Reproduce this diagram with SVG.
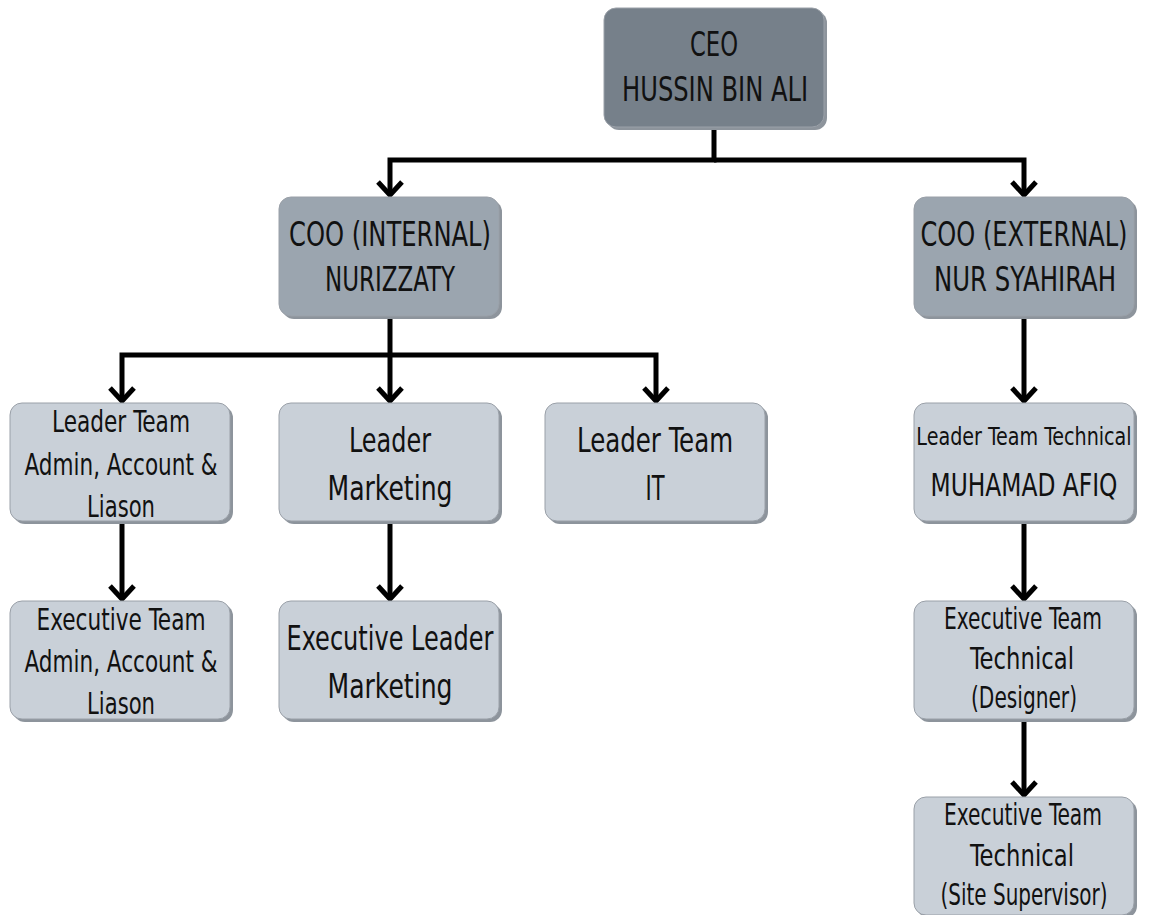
<svg xmlns="http://www.w3.org/2000/svg" width="1149" height="915" viewBox="0 0 1149 915">
<style>
.box{stroke:#9aa0a8;stroke-width:1}
.shadow{fill:#8d949c}
.d{fill:#76808a}
.m{fill:#9ba5af}
.l{fill:#c9d0d8}
text{font-family:"DejaVu Sans Condensed","Liberation Sans",sans-serif;font-stretch:condensed;fill:#111;text-anchor:middle}
.t34{font-size:34px}
.t32{font-size:32px}
.t30{font-size:30px}
.t25{font-size:25px}
.c{fill:none;stroke:#000;stroke-width:5;stroke-linejoin:miter}
</style>
<defs>
<marker id="ah" markerUnits="userSpaceOnUse" markerWidth="24" markerHeight="30" refX="19" refY="15" orient="auto" viewBox="0 0 24 30">
<polyline points="6,3 19,15 6,27" fill="none" stroke="#000" stroke-width="5"/>
</marker>
</defs>
<g id="connectors">
<polyline class="c" points="714,128 714,160 390,160 390,195" marker-end="url(#ah)"/>
<polyline class="c" points="714,160 1024,160 1024,195" marker-end="url(#ah)"/>
<polyline class="c" points="390,317 390,401" marker-end="url(#ah)"/>
<polyline class="c" points="390,355 122,355 122,401" marker-end="url(#ah)"/>
<polyline class="c" points="390,355 656,355 656,401" marker-end="url(#ah)"/>
<polyline class="c" points="1024,317 1024,401" marker-end="url(#ah)"/>
<polyline class="c" points="122,521 122,599" marker-end="url(#ah)"/>
<polyline class="c" points="390,521 390,599" marker-end="url(#ah)"/>
<polyline class="c" points="1024,521 1024,599" marker-end="url(#ah)"/>
<polyline class="c" points="1024,720 1024,795" marker-end="url(#ah)"/>
</g>
<g id="ceo">
<rect class="shadow" x="607" y="11" width="220" height="119" rx="12"/>
<rect class="box d" x="604" y="8" width="220" height="119" rx="12"/>
<text class="t34" transform="translate(714,56) scale(0.72,1)" x="0" y="0" textLength="66.7" lengthAdjust="spacingAndGlyphs">CEO</text>
<text class="t34" transform="translate(715,101) scale(0.72,1)" x="0" y="0" textLength="258.3" lengthAdjust="spacingAndGlyphs">HUSSIN BIN ALI</text>
</g>
<g id="coo-internal">
<rect class="shadow" x="282" y="200" width="220" height="119" rx="12"/>
<rect class="box m" x="279" y="197" width="220" height="119" rx="12"/>
<text class="t34" transform="translate(390,246) scale(0.72,1)" x="0" y="0" textLength="280.6" lengthAdjust="spacingAndGlyphs">COO (INTERNAL)</text>
<text class="t34" transform="translate(390,291) scale(0.72,1)" x="0" y="0" textLength="180.6" lengthAdjust="spacingAndGlyphs">NURIZZATY</text>
</g>
<g id="coo-external">
<rect class="shadow" x="917" y="200" width="220" height="119" rx="12"/>
<rect class="box m" x="914" y="197" width="220" height="119" rx="12"/>
<text class="t34" transform="translate(1024,246) scale(0.72,1)" x="0" y="0" textLength="287.5" lengthAdjust="spacingAndGlyphs">COO (EXTERNAL)</text>
<text class="t34" transform="translate(1025,291) scale(0.72,1)" x="0" y="0" textLength="252.8" lengthAdjust="spacingAndGlyphs">NUR SYAHIRAH</text>
</g>
<g id="leader-admin">
<rect class="shadow" x="13" y="406" width="220" height="118" rx="12"/>
<rect class="box l" x="10" y="403" width="220" height="118" rx="12"/>
<text class="t30" transform="translate(121,432) scale(0.72,1)" x="0" y="0" textLength="191.7" lengthAdjust="spacingAndGlyphs">Leader Team</text>
<text class="t30" transform="translate(121,475) scale(0.72,1)" x="0" y="0" textLength="268.1" lengthAdjust="spacingAndGlyphs">Admin, Account &amp;</text>
<text class="t30" transform="translate(121,517) scale(0.72,1)" x="0" y="0" textLength="94.4" lengthAdjust="spacingAndGlyphs">Liason</text>
</g>
<g id="leader-marketing">
<rect class="shadow" x="282" y="406" width="220" height="118" rx="12"/>
<rect class="box l" x="279" y="403" width="220" height="118" rx="12"/>
<text class="t34" transform="translate(390,452) scale(0.72,1)" x="0" y="0" textLength="113.9" lengthAdjust="spacingAndGlyphs">Leader</text>
<text class="t34" transform="translate(390,500) scale(0.72,1)" x="0" y="0" textLength="173.6" lengthAdjust="spacingAndGlyphs">Marketing</text>
</g>
<g id="leader-it">
<rect class="shadow" x="548" y="406" width="220" height="118" rx="12"/>
<rect class="box l" x="545" y="403" width="220" height="118" rx="12"/>
<text class="t34" transform="translate(655,452) scale(0.72,1)" x="0" y="0" textLength="216.7" lengthAdjust="spacingAndGlyphs">Leader Team</text>
<text class="t34" transform="translate(655,500) scale(0.72,1)" x="0" y="0" textLength="26.4" lengthAdjust="spacingAndGlyphs">IT</text>
</g>
<g id="leader-technical">
<rect class="shadow" x="917" y="406" width="220" height="118" rx="12"/>
<rect class="box l" x="914" y="403" width="220" height="118" rx="12"/>
<text class="t25" transform="translate(1024,445) scale(0.72,1)" x="0" y="0" textLength="299" lengthAdjust="spacingAndGlyphs">Leader Team Technical</text>
<text class="t32" transform="translate(1024,496) scale(0.72,1)" x="0" y="0" textLength="259.7" lengthAdjust="spacingAndGlyphs">MUHAMAD AFIQ</text>
</g>
<g id="exec-admin">
<rect class="shadow" x="13" y="604" width="220" height="118" rx="12"/>
<rect class="box l" x="10" y="601" width="220" height="118" rx="12"/>
<text class="t30" transform="translate(121,630) scale(0.72,1)" x="0" y="0" textLength="234.7" lengthAdjust="spacingAndGlyphs">Executive Team</text>
<text class="t30" transform="translate(121,672) scale(0.72,1)" x="0" y="0" textLength="268.1" lengthAdjust="spacingAndGlyphs">Admin, Account &amp;</text>
<text class="t30" transform="translate(121,714) scale(0.72,1)" x="0" y="0" textLength="94.4" lengthAdjust="spacingAndGlyphs">Liason</text>
</g>
<g id="exec-marketing">
<rect class="shadow" x="282" y="604" width="220" height="118" rx="12"/>
<rect class="box l" x="279" y="601" width="220" height="118" rx="12"/>
<text class="t34" transform="translate(390,650) scale(0.72,1)" x="0" y="0" textLength="287.5" lengthAdjust="spacingAndGlyphs">Executive Leader</text>
<text class="t34" transform="translate(390,698) scale(0.72,1)" x="0" y="0" textLength="173.6" lengthAdjust="spacingAndGlyphs">Marketing</text>
</g>
<g id="exec-designer">
<rect class="shadow" x="917" y="604" width="220" height="118" rx="12"/>
<rect class="box l" x="914" y="601" width="220" height="118" rx="12"/>
<text class="t30" transform="translate(1023,629) scale(0.72,1)" x="0" y="0" textLength="219.4" lengthAdjust="spacingAndGlyphs">Executive Team</text>
<text class="t30" transform="translate(1022,669) scale(0.72,1)" x="0" y="0" textLength="144.4" lengthAdjust="spacingAndGlyphs">Technical</text>
<text class="t30" transform="translate(1024,708) scale(0.72,1)" x="0" y="0" textLength="147.2" lengthAdjust="spacingAndGlyphs">(Designer)</text>
</g>
<g id="exec-site">
<rect class="shadow" x="917" y="800" width="220" height="118" rx="12"/>
<rect class="box l" x="914" y="797" width="220" height="118" rx="12"/>
<text class="t30" transform="translate(1023,825) scale(0.72,1)" x="0" y="0" textLength="219.4" lengthAdjust="spacingAndGlyphs">Executive Team</text>
<text class="t30" transform="translate(1022,866) scale(0.72,1)" x="0" y="0" textLength="144.4" lengthAdjust="spacingAndGlyphs">Technical</text>
<text class="t30" transform="translate(1024,905) scale(0.72,1)" x="0" y="0" textLength="231.9" lengthAdjust="spacingAndGlyphs">(Site Supervisor)</text>
</g>
</svg>
